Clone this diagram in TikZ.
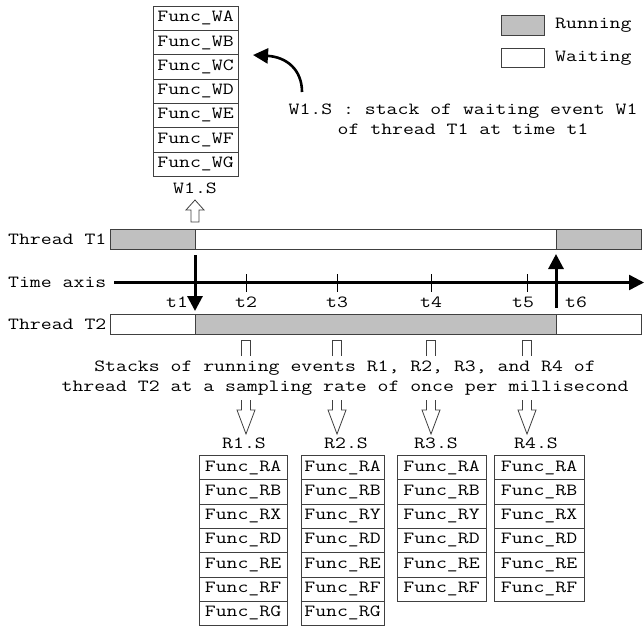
\documentclass[tikz,border=0pt]{standalone}
\usepackage{fontspec}
\setmainfont{Latin Modern Mono}[FakeStretch=1.245]
\usetikzlibrary{arrows.meta}
\definecolor{rungray}{HTML}{C0C0C0}
\definecolor{edge}{HTML}{404040}
\begin{document}
\begin{tikzpicture}[x=1pt,y=-1pt,
  every node/.style={font=\fontsize{17}{20}\selectfont, text=black},
  cellbox/.style={draw=edge, line width=0.8pt, fill=white, minimum height=24.3pt, inner sep=0pt, anchor=north},
  bar/.style={draw=edge, line width=0.8pt},
  hollow/.style={draw=edge, line width=0.8pt, fill=white},
  thick arrow/.style={line width=3pt, -{Triangle[length=15pt,width=15pt]}},
  lbl/.style={anchor=west, inner sep=0pt},
  tick/.style={line width=0.7pt}]
\useasboundingbox (0,0) rectangle (644,625);

% ---- stack W1.S ----
\foreach \t [count=\i from 0] in {WA,WB,WC,WD,WE,WF,WG}
  \node[cellbox, minimum width=85pt] (w\i) at (195.5,{5.7+\i*24.3}) {Func\_\t};
\node[inner sep=0pt] (wlabel) at (195,188) {W1.S};

% hollow up arrow
\coordinate (wup) at (195,222);
\draw[hollow] (wup) ++(-4,0) -- ++(0,-12) -- ++(-5,0) -- ++(9,-10) -- ++(9,10) -- ++(-5,0) -- ++(0,12) -- cycle;

% ---- legend ----
\node[bar, fill=rungray, minimum width=43pt, minimum height=20pt, inner sep=0pt] (legrun) at (523,25) {};
\node[lbl] (legruntext) at (555,25) {Running};
\node[bar, fill=white, minimum width=43pt, minimum height=19pt, inner sep=0pt] (legwait) at (523,58) {};
\node[lbl] (legwaittext) at (555,58) {Waiting};

% ---- description W1 ----
\node[align=center, inner sep=0pt] (wdesc) at (463,119) {W1.S : stack of waiting event W1\\of thread T1 at time t1};
\coordinate (curvestart) at (302,92);
\coordinate (curveend) at (253,55);
\draw[line width=2.6pt, -{Triangle[length=15pt,width=15pt]}] (curvestart) .. controls (302,70) and (287,57) .. (curveend);

% ---- thread T1 ----
\node[lbl] (thr1) at (8,239) {Thread T1};
\draw[bar, fill=rungray] (110,229) rectangle (195,249);
\draw[bar, fill=white] (195,229) rectangle (556,249);
\draw[bar, fill=rungray] (556,229) rectangle (641,249);

% ---- time axis ----
\node[lbl] (taxis) at (8,282) {Time axis};
\coordinate (axstart) at (114,282.5);
\coordinate (axend) at (644,282.5);
\draw[line width=2.4pt, -{Triangle[length=15pt,width=15pt]}] (axstart) -- (axend);
\foreach \x/\n in {246/2,337/3,431/4,527/5}
  \draw[tick] (\x,274) -- (\x,292);
\node[inner sep=0pt] (lt1) at (177,302) {t1};
\node[inner sep=0pt] (lt2) at (246,302) {t2};
\node[inner sep=0pt] (lt3) at (337,302) {t3};
\node[inner sep=0pt] (lt4) at (431,302) {t4};
\node[inner sep=0pt] (lt5) at (523,302) {t5};
\node[inner sep=0pt] (lt6) at (576,302) {t6};

% ---- thread T2 ----
\node[lbl] (thr2) at (8,324) {Thread T2};
\draw[bar, fill=white] (110,314) rectangle (195,334);
\draw[bar, fill=rungray] (195,314) rectangle (556,334);
\draw[bar, fill=white] (556,314) rectangle (641,334);

% ---- thick event arrows ----
\coordinate (dnstart) at (195,255);
\coordinate (dnend) at (195,311);
\draw[thick arrow] (dnstart) -- (dnend);
\coordinate (upstart) at (556,308);
\coordinate (upend) at (556,254);
\draw[thick arrow] (upstart) -- (upend);

% ---- description R ----
\node[align=center, inner sep=0pt] (rdesc) at (345,378) {Stacks of running events R1, R2, R3, and R4 of\\thread T2 at a sampling rate of once per millisecond};

% split hollow arrows
\foreach \x in {246,337,431,527} {
  \draw[edge, line width=0.8pt] (\x-4.5,356) -- (\x-4.5,340.5) -- (\x+4.5,340.5) -- (\x+4.5,356);
  \draw[edge, line width=0.8pt, fill=white] (\x-4.5,400) -- (\x-4.5,410) -- (\x-9,410) -- (\x,434) -- (\x+9,410) -- (\x+4.5,410) -- (\x+4.5,400);
}

% ---- R stacks ----
\node[inner sep=0pt] (r1label) at (244,443) {R1.S};
\node[inner sep=0pt] (r2label) at (346,443) {R2.S};
\node[inner sep=0pt] (r3label) at (436,443) {R3.S};
\node[inner sep=0pt] (r4label) at (536,443) {R4.S};

\foreach \t [count=\i from 0] in {RA,RB,RX,RD,RE,RF,RG}
  \node[cellbox, minimum width=88pt] (ra\i) at (243,{455+\i*24.3}) {Func\_\t};
\foreach \t [count=\i from 0] in {RA,RB,RY,RD,RE,RF,RG}
  \node[cellbox, minimum width=83pt] (rb\i) at (342.5,{455+\i*24.3}) {Func\_\t};
\foreach \t [count=\i from 0] in {RA,RB,RY,RD,RE,RF}
  \node[cellbox, minimum width=89pt] (rc\i) at (441.5,{455+\i*24.3}) {Func\_\t};
\foreach \t [count=\i from 0] in {RA,RB,RX,RD,RE,RF}
  \node[cellbox, minimum width=90pt] (rd\i) at (539,{455+\i*24.3}) {Func\_\t};
\end{tikzpicture}
\end{document}
